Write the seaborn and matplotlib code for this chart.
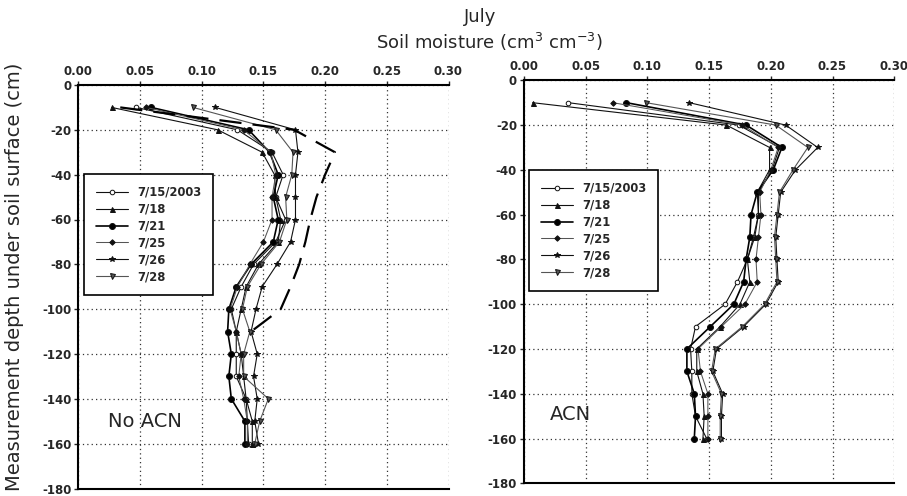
import matplotlib
matplotlib.use("Agg")
import matplotlib.pyplot as plt
import seaborn as sns
import pandas as pd

depth = [-10, -20, -30, -40, -50, -60, -70, -80, -90, -100, -110, -120, -130, -140, -150, -160]
dates = ["7/15/2003", "7/18", "7/21", "7/25", "7/26", "7/28"]

# No ACN panel
noacn_0715 = [0.047, 0.129, 0.157, 0.166, 0.160, 0.168, 0.160, 0.142, 0.132, 0.124, 0.128, 0.128, 0.128, 0.136, 0.137, 0.138]
noacn_0718 = [0.027, 0.113, 0.149, 0.159, 0.160, 0.164, 0.162, 0.146, 0.136, 0.132, 0.128, 0.132, 0.134, 0.136, 0.141, 0.141]
noacn_0721 = [0.059, 0.138, 0.155, 0.162, 0.158, 0.162, 0.158, 0.140, 0.128, 0.122, 0.121, 0.124, 0.122, 0.124, 0.135, 0.135]
noacn_0725 = [0.055, 0.134, 0.156, 0.160, 0.157, 0.157, 0.150, 0.139, 0.129, 0.123, 0.128, 0.132, 0.130, 0.134, 0.137, 0.137]
noacn_0726 = [0.111, 0.176, 0.178, 0.176, 0.176, 0.176, 0.172, 0.161, 0.149, 0.144, 0.140, 0.145, 0.142, 0.145, 0.143, 0.146]
noacn_0728 = [0.093, 0.160, 0.174, 0.173, 0.168, 0.169, 0.163, 0.148, 0.137, 0.133, 0.139, 0.134, 0.134, 0.154, 0.147, 0.143]
dash_depth = [-10, -20, -30, -40, -50, -60, -70, -80, -90, -100, -110]
noacn_dash = [0.034, 0.175, 0.208, 0.200, 0.193, 0.188, 0.184, 0.179, 0.172, 0.164, 0.140]

# ACN panel
acn_0715 = [0.036, 0.174, 0.207, 0.201, 0.190, 0.190, 0.186, 0.181, 0.173, 0.163, 0.139, 0.135, 0.136, 0.136, 0.139, 0.148]
acn_0718 = [0.007, 0.164, 0.199, 0.199, 0.189, 0.190, 0.187, 0.181, 0.183, 0.175, 0.159, 0.140, 0.140, 0.145, 0.146, 0.145]
acn_0721 = [0.083, 0.180, 0.209, 0.202, 0.189, 0.184, 0.183, 0.180, 0.178, 0.170, 0.151, 0.132, 0.132, 0.138, 0.139, 0.138]
acn_0725 = [0.072, 0.177, 0.206, 0.200, 0.191, 0.192, 0.190, 0.188, 0.189, 0.179, 0.160, 0.141, 0.143, 0.149, 0.149, 0.149]
acn_0726 = [0.134, 0.212, 0.238, 0.220, 0.208, 0.206, 0.204, 0.205, 0.206, 0.196, 0.178, 0.156, 0.153, 0.161, 0.160, 0.160]
acn_0728 = [0.099, 0.204, 0.230, 0.218, 0.207, 0.205, 0.203, 0.204, 0.205, 0.195, 0.177, 0.155, 0.152, 0.160, 0.159, 0.159]

x_ticks = [0.00, 0.05, 0.10, 0.15, 0.20, 0.25, 0.30]
y_ticks = [0, -20, -40, -60, -80, -100, -120, -140, -160, -180]

styles = {
    "7/15/2003": dict(marker="o", color="#111111", mfc="white", ms=3.3, lw=0.8),
    "7/18": dict(marker="^", color="#111111", mfc="#111111", ms=3.6, lw=0.8),
    "7/21": dict(marker="o", color="#000000", mfc="#000000", ms=4.3, lw=1.2),
    "7/25": dict(marker="D", color="#555555", mfc="#111111", ms=2.8, lw=0.75),
    "7/26": dict(marker="*", color="#111111", mfc="#111111", ms=4.3, lw=0.8),
    "7/28": dict(marker="v", color="#555555", mfc="#555555", ms=3.6, lw=0.8),
}

sns.set_style("white")
plt.rcParams["font.family"] = ["DejaVu Sans"]

fig = plt.figure(figsize=(9.07, 4.96), dpi=100)
axL = fig.add_axes([78.3 / 907, 1 - 488.5 / 496, 370.2 / 907, 403.5 / 496])
axR = fig.add_axes([524 / 907, 1 - 483.3 / 496, 370.2 / 907, 403 / 496])

panels = [
    (axL, [noacn_0715, noacn_0718, noacn_0721, noacn_0725, noacn_0726, noacn_0728], "No ACN", (0.08, 0.165), (0.016, 0.779)),
    (axR, [acn_0715, acn_0718, acn_0721, acn_0725, acn_0726, acn_0728], "ACN", (0.07, 0.17), (0.0135, 0.777)),
]

for ax, series, label, txtpos, legpos in panels:
    for name, vals in zip(dates, series):
        st = styles[name]
        df = pd.DataFrame({"moisture": vals, "depth": depth})
        sns.lineplot(data=df, x="moisture", y="depth", sort=False, estimator=None,
                     ax=ax, color=st["color"], lw=st["lw"], marker=st["marker"],
                     markersize=st["ms"], markerfacecolor=st["mfc"],
                     markeredgecolor="#111111", markeredgewidth=0.7, label=name)
    if ax is axL:
        dfd = pd.DataFrame({"moisture": noacn_dash, "depth": dash_depth})
        sns.lineplot(data=dfd, x="moisture", y="depth", sort=False, estimator=None,
                     ax=ax, color="black", lw=1.6, label="_nolegend_")
        ax.lines[-1].set_dashes([10, 5])
    ax.set_xlim(0, 0.30)
    ax.set_ylim(-180, 0)
    ax.set_xticks(x_ticks)
    ax.set_xticklabels([f"{t:.2f}" for t in x_ticks], fontweight="bold", fontsize=8.5)
    ax.set_yticks(y_ticks)
    ax.set_yticklabels([str(t) for t in y_ticks], fontweight="bold", fontsize=8.5)
    ax.xaxis.tick_top()
    ax.tick_params(axis="x", top=True, bottom=False, length=3, width=1, pad=2, labeltop=True, labelbottom=False)
    ax.tick_params(axis="y", left=True, length=3, width=1, pad=2)
    ax.grid(True, color="#333333", linestyle=(0, (1, 2.5)), linewidth=0.9)
    for s in ["left", "top", "bottom"]:
        ax.spines[s].set_visible(True)
        ax.spines[s].set_color("black")
        ax.spines[s].set_linewidth(1.5)
    ax.spines["right"].set_visible(False)
    ax.set_xlabel("")
    ax.set_ylabel("")
    ax.text(txtpos[0], txtpos[1], label, transform=ax.transAxes, fontsize=14, ha="left", va="center")
    leg = ax.legend(loc="upper left", bbox_to_anchor=legpos, frameon=True, fancybox=False,
                    edgecolor="black", framealpha=1, prop=dict(weight="bold", size=8.3),
                    handlelength=2.8, labelspacing=0.34, borderpad=1.0, handletextpad=0.8,
                    borderaxespad=0)
    leg.get_frame().set_linewidth(1.2)

fig.text(480 / 907, 1 - 17 / 496, "July", ha="center", va="center", fontsize=13)
fig.text(489 / 907, 1 - 42 / 496, "Soil moisture (cm$^{3}$ cm$^{-3}$)", ha="center", va="center", fontsize=13)
fig.text(0.0165, 1 - 277 / 496, "Measurement depth under soil surface (cm)", rotation=90,
         ha="center", va="center", fontsize=14)

fig.savefig("out.png", dpi=100)
